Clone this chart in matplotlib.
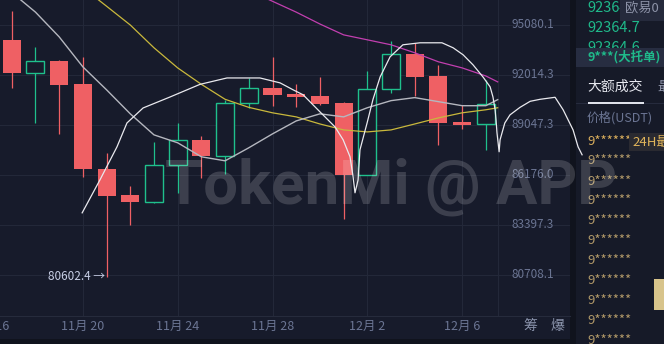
import matplotlib
matplotlib.use('Agg')
import matplotlib.pyplot as plt
import matplotlib.transforms as mtransforms
from matplotlib.patches import Rectangle

plt.rcParams['font.family'] = ['Noto Sans CJK SC', 'DejaVu Sans']

# daily candles, 11/17 .. 12/7 (index 0 = 11/17)
opens  = [94160, 92118, 92870, 91475, 86520, 85064, 84658, 86734, 88186, 87250, 90343,
          91243, 90846, 90728, 90313, 86159, 91184, 93302, 91956, 89225, 89089]
closes = [92118, 92854, 91439, 86504, 85025, 84675, 86734, 88169, 87227, 90343, 91243,
          90804, 90686, 90271, 86159, 91184, 93302, 91915, 89183, 89065, 90283]
highs  = [95948, 93730, 92933, 93117, 87440, 85564, 88071, 89166, 88433, 90539, 91836,
          93098, 91451, 91895, 90390, 92255, 94099, 93995, 92627, 90194, 91718]
lows   = [91243, 89183, 88530, 86065, 80602.4, 83397, 84620, 85192, 86026, 86233, 90047,
          90141, 90082, 90200, 83747, 86150, 90947, 90751, 87899, 88818, 87612]

# moving averages (day index, price)
ma_gray_x = [0, 1, 2, 3, 4, 5, 6, 7, 8, 9, 10, 11, 12, 13, 14, 15, 16, 17, 18, 19, 20, 20.5]
ma_gray = [97130, 95886, 94344, 92506, 91124, 89701, 88473, 88014, 87210, 86981, 87727,
           88530, 89285, 89701, 89522, 90060, 90480, 90660, 90420, 90181, 90181, 90540]
ma_yel_x = [3, 4, 5, 6, 7, 8, 9, 10, 11, 12, 13, 14, 15, 16, 17, 18, 19, 20, 20.5]
ma_yel = [97436, 96258, 95080, 93670, 92443, 91451, 90560, 90082, 89761, 89522, 89107,
          88760, 88645, 88760, 89107, 89462, 89761, 89940, 90060]
ma_mag_x = [10, 11, 12, 13, 14, 15, 16, 17, 18, 19, 20, 20.5]
ma_mag = [97250, 96570, 95886, 95142, 94467, 94161, 93854, 93364, 92813, 92443, 91955, 91599]

# thin white curve
curve_x = [2.97, 3.72, 4.44, 4.86, 5.54, 6.68, 7.94, 9.08, 10.47, 11.32, 11.87, 12.29, 13.0,
           13.64, 13.98, 14.27, 14.4, 14.48, 14.61, 14.69, 14.99, 15.24, 15.54, 15.96, 16.5,
           17.22, 18.15, 18.62, 19.04, 19.46, 19.88, 20.18, 20.3, 20.39, 20.43, 20.47, 20.56,
           20.6, 20.8, 21.02, 21.44, 21.87, 22.29, 22.92, 23.26, 23.68, 23.89, 24.06]
curve_y = [84064, 85898, 87784, 89166, 90047, 90699, 91451, 91836, 91836, 91540, 91124, 90829,
           89821, 88932, 88186, 87210, 86065, 85176, 85898, 87612, 89166, 90560, 91895, 93117,
           93854, 93977, 93977, 93670, 93241, 92627, 91895, 91302, 90699, 89940, 89344, 88588,
           87497, 88186, 89166, 89642, 90082, 90441, 90560, 90680, 89940, 88760, 87784, 87325]

price_ticks = [95080.1, 92014.3, 89047.3, 86176.0, 83397.3, 80708.1]
date_labels = ['11月 16', '11月 20', '11月 24', '11月 28', '12月 2', '12月 6']
date_pos = [-1, 3, 7, 11, 15, 19]

BG = '#171b2b'
RED = '#ef6064'
GREEN = '#1fc08c'
GRID = '#232839'
W, H = 664, 344

fig = plt.figure(figsize=(W / 100, H / 100), dpi=100, facecolor=BG)
ax = fig.add_axes([0, 28 / H, 570 / W, 316 / H], facecolor=BG)
ax.set_yscale('log')
ax.set_xlim(-0.496, 23.55)
ax.set_ylim(78567, 96651)
ax.set_xticks([])
ax.set_yticks([])
ax.minorticks_off()
for s in ['top', 'left', 'right']:
    ax.spines[s].set_visible(False)
ax.spines['bottom'].set_color('#262b3c')

for p in price_ticks:
    ax.axhline(p, color=GRID, lw=0.8, zorder=0)
for d in date_pos + [20.5]:
    ax.axvline(d, color=GRID, lw=0.8, zorder=0)

# candles
for i in range(len(opens)):
    o, c = opens[i], closes[i]
    up = c >= o
    col = GREEN if up else RED
    ax.vlines(i, lows[i], highs[i], color=col, lw=0.9, zorder=2)
    ax.bar(i, abs(c - o), bottom=min(o, c), width=0.76,
           facecolor=BG if up else col, edgecolor=col, linewidth=1.0 if up else 0, zorder=3)

ax.plot(ma_yel_x, ma_yel, color='#c9b83c', lw=0.9, zorder=4)
ax.plot(ma_mag_x, ma_mag, color='#c23fb0', lw=0.9, zorder=4)
ax.plot(ma_gray_x, ma_gray, color='#b5b7bf', lw=1.0, zorder=4)
ax.plot(curve_x, curve_y, color='#e9e9ee', lw=0.9, zorder=5, clip_on=False)

ax.text(4 - 0.08, lows[4], '80602.4 →', ha='right', va='center', fontsize=8.5,
        color='#c8cfe6', zorder=6)

ytr = mtransforms.blended_transform_factory(ax.transAxes, ax.transData)
for p in price_ticks:
    ax.text(512 / 570, p, f'{p:.1f}', transform=ytr, ha='left', va='center',
            fontsize=8.5, color='#6b7593', zorder=6)

xtr = mtransforms.blended_transform_factory(ax.transData, ax.transAxes)
for d, lab in zip(date_pos, date_labels):
    ax.text(d, -10 / 316, lab, transform=xtr, ha='center', va='center',
            fontsize=9, color='#6b7593', clip_on=False)


def box(x0, y0, x1, y1, color, z=-1):
    fig.add_artist(Rectangle((x0 / W, 1 - y1 / H), (x1 - x0) / W, (y1 - y0) / H,
                             transform=fig.transFigure, color=color, zorder=z, lw=0))


def txt(x, y, s, z=2, **kw):
    fig.text(x / W, 1 - y / H, s, va='center', zorder=z, **kw)


# bottom strip and right panel
box(0, 339, 576, 344, '#10131d')
box(570, 0, 576, 344, '#10131d')
box(576, 0, 664, 344, '#161a28')

txt(530, 326, '筹', ha='center', fontsize=10, color='#8a93ab')
txt(557, 326, '爆', ha='center', fontsize=10, color='#8a93ab')

txt(587, 8, '92364.8', fontsize=10.5, color='#1fb98a')
txt(587, 28, '92364.7', fontsize=10.5, color='#1fb98a')
txt(587, 48, '92364.6', fontsize=10.5, color='#1fb98a')
box(576, 48, 664, 67, '#272d41', z=3)
txt(587, 57, '9***(大托单)', z=4, fontsize=9, color='#1fb98a', weight='bold')
box(620, 0, 664, 21, '#252a3c', z=3)
txt(625, 8, '欧易0', z=4, fontsize=9.5, color='#8d93a8')

txt(587, 87, '大额成交', fontsize=10, color='#e6e8ef')
txt(657, 87, '最', fontsize=10, color='#8d93a8')
box(576, 103, 664, 104, '#262b3d', z=2)
box(588, 102, 644, 104, '#dfe2ea', z=3)
txt(587, 118, '价格(USDT)', fontsize=9, color='#6b7593')

for k in range(11):
    txt(587, 141 + 20 * k, '9******', fontsize=9.5, color='#d8ad5c' if k == 0 else '#b09868')
box(629, 133, 664, 151, '#2a2a31', z=3)
txt(632, 142, '24H最', z=4, fontsize=9.5, color='#e0b45a')
box(654, 279, 664, 310, '#d8c48b', z=3)

# watermark
fig.text(165 / W, 1 - 203 / H, 'TokenMi @ APP', fontsize=44.5, family='Roboto',
         weight='bold', color='white', alpha=0.16, va='baseline', zorder=10)

fig.savefig('out.png', dpi=100, facecolor=BG)
